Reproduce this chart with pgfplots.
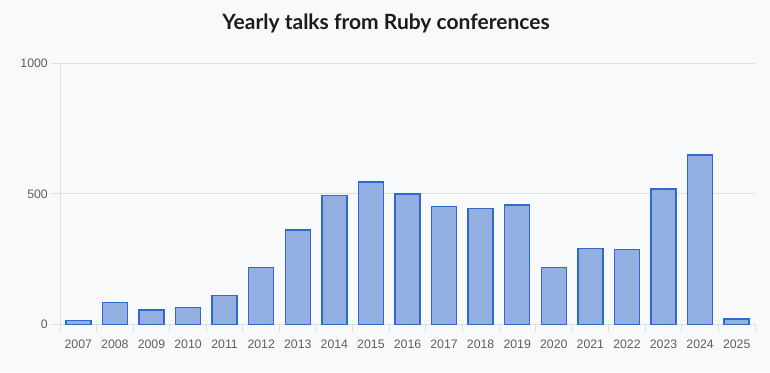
\documentclass[border=0pt]{standalone}
\usepackage{pgfplots}
\pgfplotsset{compat=1.18}
\usepackage{pgfplotstable}
\usepackage{fontspec}
\setmainfont{Liberation Sans}
\newfontfamily\titlefont{Lato}
\definecolor{bg}{RGB}{248,249,251}
\definecolor{barfill}{RGB}{147,175,226}
\definecolor{baredge}{RGB}{50,104,206}
\definecolor{gridc}{RGB}{222,224,228}
\definecolor{ticklab}{RGB}{95,95,95}
\definecolor{titlec}{RGB}{28,28,30}
\pgfplotstableread{
x v
0 14
1 83
2 54
3 65
4 111
5 217
6 362
7 493
8 546
9 500
10 452
11 443
12 458
13 217
14 290
15 286
16 518
17 649
18 20
}\talks
\begin{document}
\begin{tikzpicture}[x=1pt,y=1pt]
\fill[bg] (0,0) rectangle (770,372);
\node[font=\titlefont\bfseries\fontsize{21}{24}\selectfont, text=titlec, anchor=base] at (386,342.7) {Yearly talks from Ruby conferences};
\begin{axis}[
  at={(60pt,47.7pt)}, anchor=south west,
  scale only axis, width=695pt, height=261pt,
  xmin=-0.5, xmax=18.5, ymin=0, ymax=1000,
  ybar, bar width=25pt,
  xtick={0,...,18},
  xticklabels={2007,2008,2009,2010,2011,2012,2013,2014,2015,2016,2017,2018,2019,2020,2021,2022,2023,2024,2025},
  minor xtick={-0.5,0.5,...,18.5},
  ytick={0,500,1000},
  axis x line=bottom, axis y line=left,
  axis line style={draw=gridc, line width=0.8pt, -},
  ymajorgrids, major grid style={draw=gridc, line width=0.8pt},
  tick align=outside,
  major tick length=9pt, minor tick length=8pt,
  xtick style={draw=none},
  ytick style={draw=gridc, line width=0.8pt},
  minor x tick style={draw=gridc, line width=0.8pt},
  /pgf/number format/assume math mode=true,
  /pgf/number format/1000 sep={},
  tick label style={font=\fontsize{12.3}{14}\selectfont, text=ticklab},
  yticklabel style={anchor=east, inner sep=0pt, xshift=-3pt},
  xticklabel style={anchor=base, inner sep=0pt, yshift=-15pt},
]
\addplot[fill=barfill, draw=baredge, line width=1.5pt] table[x=x, y=v] {\talks};
\end{axis}
\end{tikzpicture}
\end{document}
